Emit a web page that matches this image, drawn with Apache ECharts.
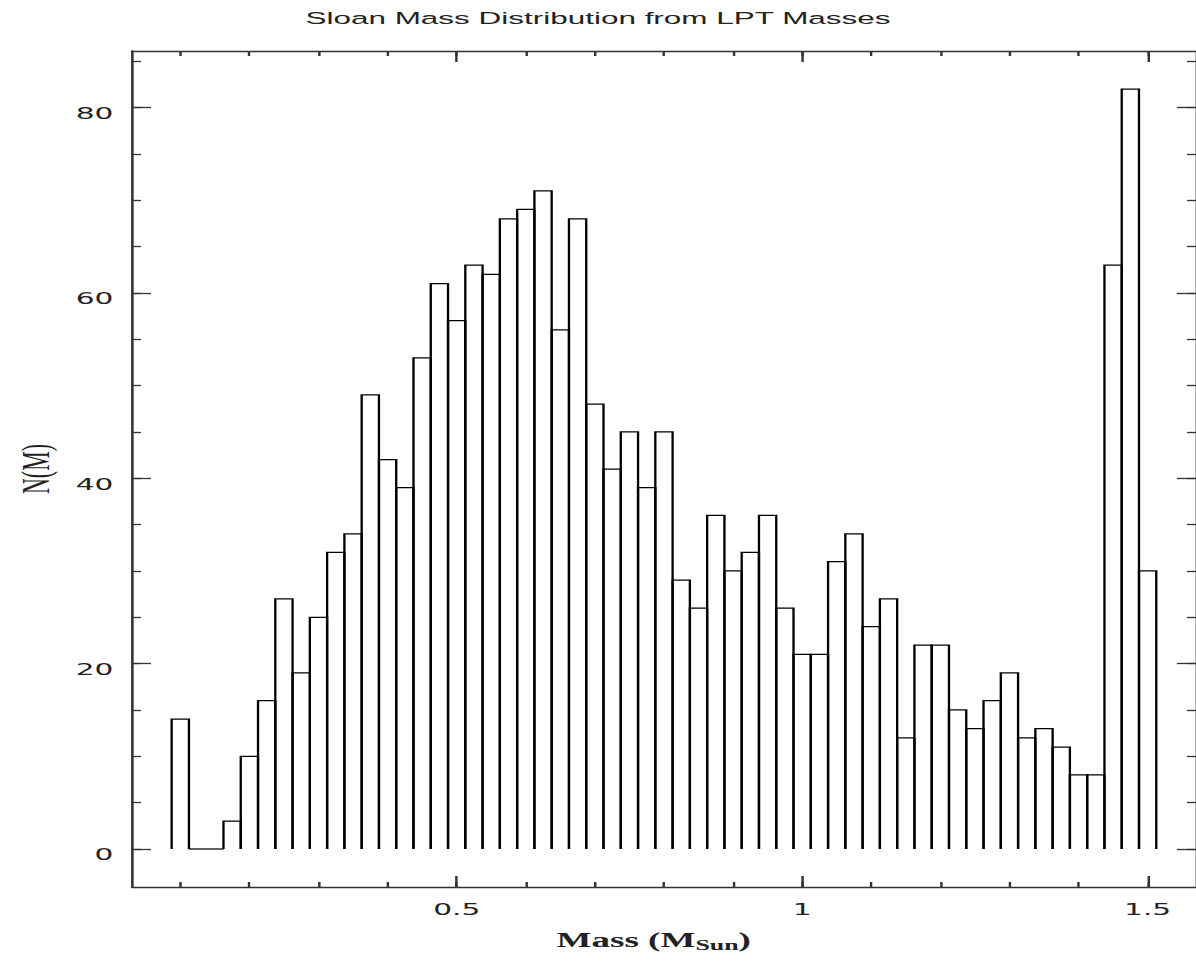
<!DOCTYPE html>
<html>
<head>
<meta charset="utf-8">
<script src="https://cdn.jsdelivr.net/npm/echarts@6/dist/echarts.min.js"></script>
<style>
html,body{margin:0;padding:0;background:#fff;overflow:hidden;width:1196px;height:964px;}
#chart{width:646px;height:964px;transform:scaleX(1.85139);transform-origin:0 0;}
</style>
</head>
<body>
<div id="chart"></div>
<script>
// ---- data ----
const chartTitle = 'Sloan Mass Distribution from LPT Masses';
const binCenters = [0.1, 0.125, 0.15, 0.175, 0.2, 0.225, 0.25, 0.275, 0.3, 0.325,
  0.35, 0.375, 0.4, 0.425, 0.45, 0.475, 0.5, 0.525, 0.55, 0.575,
  0.6, 0.625, 0.65, 0.675, 0.7, 0.725, 0.75, 0.775, 0.8, 0.825,
  0.85, 0.875, 0.9, 0.925, 0.95, 0.975, 1.0, 1.025, 1.05, 1.075,
  1.1, 1.125, 1.15, 1.175, 1.2, 1.225, 1.25, 1.275, 1.3, 1.325,
  1.35, 1.375, 1.4, 1.425, 1.45, 1.475, 1.5];
const counts = [14, 0, 0, 3, 10, 16, 27, 19, 25, 32,
  34, 49, 42, 39, 53, 61, 57, 63, 62, 68,
  69, 71, 56, 68, 48, 41, 45, 39, 45, 29,
  26, 36, 30, 32, 36, 26, 21, 21, 31, 34,
  24, 27, 12, 22, 22, 15, 13, 16, 19, 12,
  13, 11, 8, 8, 63, 82, 30];
const binWidth = 0.025;
const xRange = [0.03, 1.57];
const yRange = [-4.1, 86.1];
const xMajorTicks = [0.5, 1, 1.5];
const xTickLabels = ['0.5', '1', '1.5'];
const xMinorTicks = [0.1, 0.2, 0.3, 0.4, 0.5, 0.6, 0.7, 0.8, 0.9, 1.0, 1.1, 1.2, 1.3, 1.4, 1.5];
const yMajorTicks = [0, 20, 40, 60, 80];
const yTickLabels = ['0', '20', '40', '60', '80'];
const yMinorTicks = [0, 5, 10, 15, 20, 25, 30, 35, 40, 45, 50, 55, 60, 65, 70, 75, 80, 85];

// ---- chart ----
const chart = echarts.init(document.getElementById('chart'), null, {renderer: 'svg'});
const AX = '#333';
const labelFont = {fontFamily: 'DejaVu Sans', fontSize: 16, color: '#222'};

function xAxisDef(position, ticks, len, main) {
  return {
    type: 'value', position: position, min: xRange[0], max: xRange[1],
    axisLine: {show: main, onZero: false, lineStyle: {color: AX, width: 1.4}},
    axisTick: {show: true, inside: true, length: len, customValues: ticks, lineStyle: {color: AX, width: 1.3}},
    axisLabel: main && position === 'bottom' ? Object.assign({
      customValues: xMajorTicks, margin: 15,
      formatter: function (v) { const i = xMajorTicks.indexOf(v); return i >= 0 ? xTickLabels[i] : ''; }
    }, labelFont) : {show: false},
    splitLine: {show: false}
  };
}
function yAxisDef(position, ticks, len, main) {
  return {
    type: 'value', position: position, min: yRange[0], max: yRange[1],
    axisLine: {show: main, onZero: false, lineStyle: {color: AX, width: 1.4}},
    axisTick: {show: true, inside: true, length: len, customValues: ticks, lineStyle: {color: AX, width: 1.3}},
    axisLabel: main && position === 'left' ? Object.assign({
      customValues: yMajorTicks, margin: 10, verticalAlign: 'top', lineHeight: 12,
      formatter: function (v) { const i = yMajorTicks.indexOf(v); return i >= 0 ? yTickLabels[i] : ''; }
    }, labelFont) : {show: false},
    splitLine: {show: false}
  };
}

const xMain = xAxisDef('bottom', xMajorTicks, 11, true);
xMain.name = '{a|Mass (M}{s|Sun}{a|)}';
xMain.nameLocation = 'middle';
xMain.nameGap = 43;
xMain.nameTextStyle = {
  padding: [0, 11, 0, 0],
  rich: {
    a: {fontFamily: 'Liberation Serif', fontWeight: 'bold', fontSize: 20, color: '#222', lineHeight: 22, verticalAlign: 'top'},
    s: {fontFamily: 'Liberation Serif', fontWeight: 'bold', fontSize: 14, color: '#222', lineHeight: 14, padding: [11, 0, 0, 0], verticalAlign: 'bottom'}
  }
};
const yMain = yAxisDef('left', yMajorTicks, 10.3, true);
yMain.name = 'N(M)';
yMain.nameLocation = 'middle';
yMain.nameGap = 34;
yMain.nameRotate = 90;
yMain.nameTextStyle = {fontFamily: 'Liberation Serif', fontSize: 22, color: '#222'};

chart.setOption({
  backgroundColor: '#fff',
  animation: false,
  title: {
    text: chartTitle, left: 'center', top: 9, padding: 0,
    textStyle: {fontFamily: 'Liberation Sans', fontSize: 17, fontWeight: 'normal', color: '#222'}
  },
  grid: {left: 67, top: 51, width: 584, height: 836},
  xAxis: [
    xMain,
    xAxisDef('bottom', xMinorTicks, 5, false),
    xAxisDef('top', xMajorTicks, 11, true),
    xAxisDef('top', xMinorTicks, 5, false)
  ],
  yAxis: [
    yMain,
    yAxisDef('left', yMinorTicks, 4.9, false),
    yAxisDef('right', yMajorTicks, 10.3, true),
    yAxisDef('right', yMinorTicks, 4.9, false)
  ],
  series: [{
    type: 'custom',
    xAxisIndex: 0, yAxisIndex: 0,
    data: binCenters.map(function (c, i) { return [c, counts[i]]; }),
    encode: {x: 0, y: 1},
    renderItem: function (params, api) {
      const c = api.value(0), h = api.value(1);
      const pts = [
        api.coord([c - binWidth / 2, 0]),
        api.coord([c - binWidth / 2, h]),
        api.coord([c + binWidth / 2, h]),
        api.coord([c + binWidth / 2, 0])
      ];
      return {type: 'polyline', shape: {points: pts}, style: {stroke: '#000', lineWidth: 1.25, fill: null}};
    }
  }]
});
</script>
</body>
</html>
